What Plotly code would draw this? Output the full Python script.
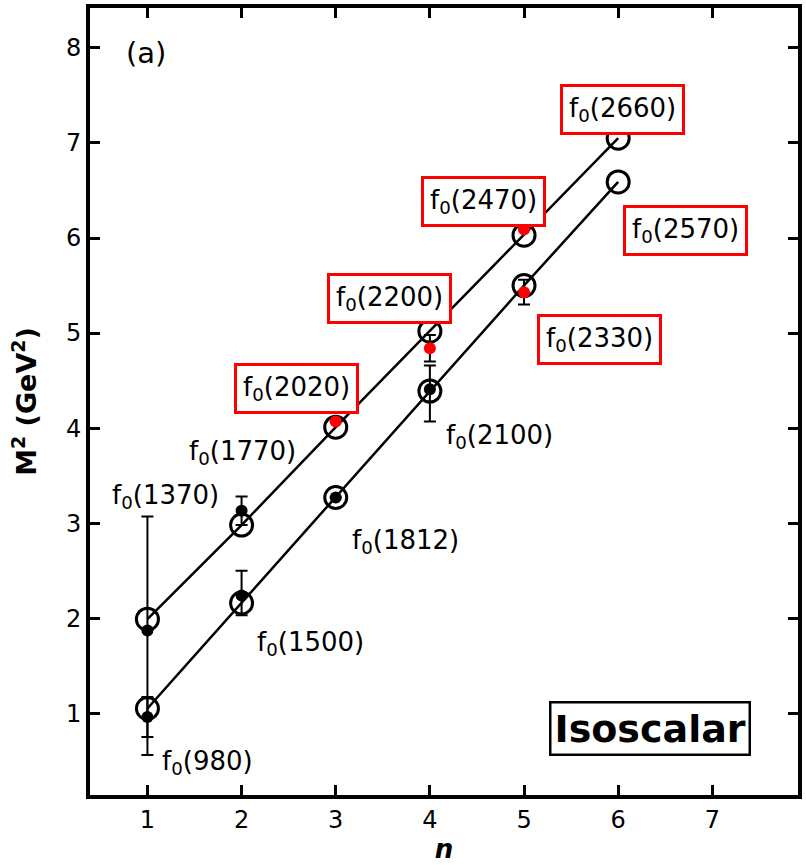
import plotly.graph_objects as go

# Radial quantum number
n_vals = [1, 2, 3, 4, 5, 6]

# Regge trajectories (model), M^2 in GeV^2
traj_upper = [1.99, 2.98, 4.01, 5.02, 6.03, 7.05]
traj_lower = [1.05, 2.16, 3.27, 4.39, 5.50, 6.59]

# Established states (black)
est_names = ["f0(980)", "f0(1370)", "f0(1500)", "f0(1770)", "f0(1812)", "f0(2100)"]
est_n = [1, 1, 2, 2, 3, 4]
est_m2 = [0.96, 1.87, 2.24, 3.13, 3.27, 4.41]
est_err_plus = [0.21, 1.20, 0.26, 0.15, 0.0, 0.25]
est_err_minus = [0.21, 1.31, 0.21, 0.15, 0.0, 0.34]

# Less established states (red)
new_names = ["f0(2020)", "f0(2200)", "f0(2330)", "f0(2470)"]
new_n = [3, 4, 5, 5]
new_m2 = [4.07, 4.84, 5.43, 6.09]
new_err = [0.0, 0.14, 0.13, 0.0]

# Label placement: (text, x, y, boxed)
labels = [
    ("f<sub>0</sub>(1370)", 1.19, 3.28, False),
    ("f<sub>0</sub>(1770)", 2.01, 3.74, False),
    ("f<sub>0</sub>(2020)", 2.58, 4.42, True),
    ("f<sub>0</sub>(2200)", 3.57, 5.36, True),
    ("f<sub>0</sub>(2470)", 4.57, 6.38, True),
    ("f<sub>0</sub>(2660)", 6.05, 7.35, True),
    ("f<sub>0</sub>(2570)", 6.71, 6.08, True),
    ("f<sub>0</sub>(2330)", 5.80, 4.93, True),
    ("f<sub>0</sub>(2100)", 4.74, 3.91, False),
    ("f<sub>0</sub>(1812)", 3.74, 2.81, False),
    ("f<sub>0</sub>(1500)", 2.73, 1.73, False),
    ("f<sub>0</sub>(980)", 1.64, 0.48, False),
]

FONT = "DejaVu Sans"

fig = go.Figure()

for traj in (traj_upper, traj_lower):
    fig.add_trace(go.Scatter(
        x=n_vals, y=traj, mode="lines+markers",
        line=dict(color="black", width=2.5),
        marker=dict(symbol="circle-open", size=22, color="black",
                    line=dict(width=3, color="black")),
        showlegend=False, hoverinfo="skip",
    ))

fig.add_trace(go.Scatter(
    x=est_n, y=est_m2, mode="markers", text=est_names,
    marker=dict(symbol="circle", size=12, color="black"),
    error_y=dict(type="data", array=est_err_plus, arrayminus=est_err_minus,
                 symmetric=False, color="black", thickness=2, width=6),
    showlegend=False,
))

fig.add_trace(go.Scatter(
    x=new_n, y=new_m2, mode="markers", text=new_names,
    marker=dict(symbol="circle", size=12, color="red"),
    error_y=dict(type="data", array=new_err, color="black", thickness=2, width=6),
    showlegend=False,
))

for txt, x, y, boxed in labels:
    ann = dict(x=x, y=y, xref="x", yref="y", text=txt, showarrow=False,
               xanchor="center", yanchor="middle",
               font=dict(family=FONT, size=26, color="black"))
    if boxed:
        ann.update(bordercolor="red", borderwidth=3, borderpad=6, bgcolor="white")
    fig.add_annotation(**ann)

fig.add_annotation(x=0.99, y=7.95, xref="x", yref="y", text="(a)", showarrow=False,
                   xanchor="center", yanchor="middle",
                   font=dict(family=FONT, size=29, color="black"))

fig.add_annotation(x=6.34, y=0.84, xref="x", yref="y", text="<b>Isoscalar</b>",
                   showarrow=False, xanchor="center", yanchor="middle",
                   font=dict(family=FONT, size=38, color="black"),
                   bordercolor="black", borderwidth=2.5, borderpad=3, bgcolor="white")

axis_common = dict(
    showline=True, linecolor="black", linewidth=4, mirror="ticks",
    ticks="inside", ticklen=10, tickwidth=3, tickcolor="black",
    showgrid=False, zeroline=False,
    tickfont=dict(family=FONT, size=24, color="black"),
)

fig.update_xaxes(range=[0.39, 7.91], tickvals=[1, 2, 3, 4, 5, 6, 7],
                 title=dict(text="<b><i>n</i></b>", font=dict(family=FONT, size=26, color="black"),
                            standoff=8),
                 **axis_common)
fig.update_yaxes(range=[0.14, 8.42], tickvals=[1, 2, 3, 4, 5, 6, 7, 8],
                 title=dict(text="<b>M<sup>2</sup> (GeV<sup>2</sup>)</b>",
                            font=dict(family=FONT, size=27, color="black"), standoff=22),
                 **axis_common)

fig.update_layout(
    width=806, height=865,
    margin=dict(l=90, r=4, t=5, b=70),
    plot_bgcolor="white", paper_bgcolor="white",
    font=dict(family=FONT, color="black"),
)

fig.write_html("out.html")
